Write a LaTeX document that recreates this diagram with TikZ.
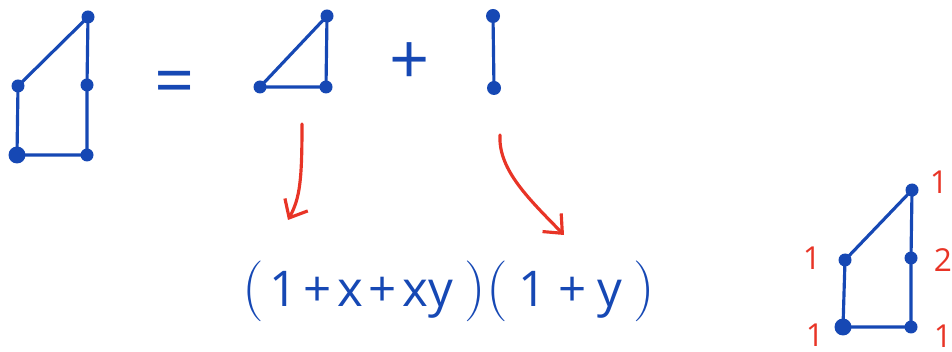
\documentclass[tikz,border=0pt]{standalone}
\usepackage{fontspec}
\setmainfont{Open Sans}
\usetikzlibrary{arrows.meta}
\definecolor{penblue}{RGB}{22, 72, 180}
\definecolor{penred}{RGB}{232, 52, 38}

\newcommand{\opn}{{\fontsize{17}{17}\selectfont$\Bigl($}}
\newcommand{\cls}{{\fontsize{17}{17}\selectfont$\Bigr)$}}
\newcommand{\gp}{\kern1.6pt}

\tikzset{
  edge/.style={penblue, line width=0.9pt, line cap=round, line join=round},
  mapsto/.style={penred, line width=0.9pt, line cap=round,
    -{Straight Barb[length=1.5mm, width=2.6mm, line width=0.9pt]}},
  countlbl/.style={penred, inner sep=0pt, font=\fontsize{9}{10}\selectfont},
  sym/.style={penblue, font=\fontsize{20}{22}\selectfont}
}

\begin{document}
\begin{tikzpicture}[x=0.01cm, y=-0.01cm]
  \useasboundingbox (0,0) rectangle (952,352);

  % whole graph
  \coordinate (p1) at (88,17);
  \coordinate (p2) at (18,86);
  \coordinate (p3) at (87,85);
  \coordinate (p4) at (17,155);
  \coordinate (p5) at (87,155);
  \draw[edge] (p2) -- (p1) -- (p3) -- (p5) -- (p4) -- (p2);
  \foreach \p in {p1,p2,p3,p5} \fill[penblue] (\p) circle (6.5);
  \fill[penblue] (p4) circle (8.5);

  \node[sym] (eq) at (175,88) {=};

  % triangle
  \coordinate (t1) at (327,16);
  \coordinate (t2) at (260,87);
  \coordinate (t3) at (326,87);
  \draw[edge] (t2) -- (t1) -- (t3) -- cycle;
  \foreach \p in {t1,t2,t3} \fill[penblue] (\p) circle (6.5);

  \node[sym] (plus) at (410,64) {+};

  % segment
  \coordinate (s1) at (493,16);
  \coordinate (s2) at (494,88);
  \draw[edge] (s1) -- (s2);
  \foreach \p in {s1,s2} \fill[penblue] (\p) circle (7);

  % arrows down to the factors
  \coordinate (a1s) at (302,124);
  \coordinate (a1e) at (288,220);
  \coordinate (a2s) at (500,135);
  \coordinate (a2e) at (564,235);
  \draw[mapsto] (a1s) .. controls (302,180) and (300,198) .. (a1e);
  \draw[mapsto] (a2s) .. controls (498,170) and (530,200) .. (a2e);

  \node[penblue, inner sep=0pt, font=\fontsize{14}{18}\selectfont] (poly) at (449,291)
    {\opn\gp1\gp+\gp x\gp+\gp xy\gp\gp\cls\opn\gp\gp1\gp\gp+\gp\gp y\gp\gp\cls};

  % graph with counts
  \coordinate (q1) at (912,190);
  \coordinate (q2) at (845,260);
  \coordinate (q3) at (911,258);
  \coordinate (q4) at (843,327);
  \coordinate (q5) at (911,327);
  \draw[edge] (q2) -- (q1) -- (q3) -- (q5) -- (q4) -- (q2);
  \foreach \p in {q1,q2,q3,q5} \fill[penblue] (\p) circle (6.5);
  \fill[penblue] (q4) circle (8.5);

  \node[countlbl] (c1) at (939,182) {1};
  \node[countlbl] (c2) at (812,258) {1};
  \node[countlbl] (c3) at (943,260) {2};
  \node[countlbl] (c4) at (815,335) {1};
  \node[countlbl] (c5) at (943,336) {1};
\end{tikzpicture}
\end{document}
